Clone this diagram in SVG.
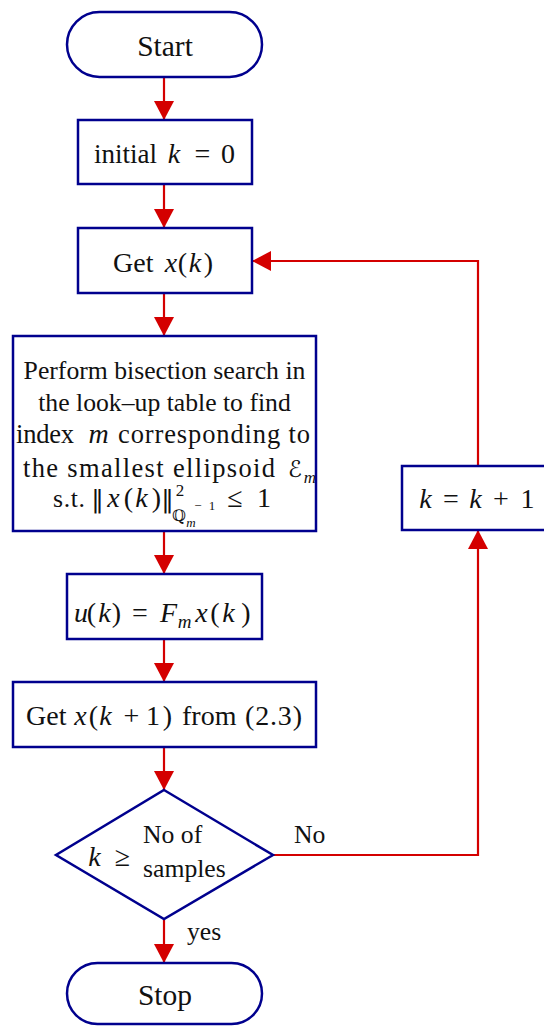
<svg xmlns="http://www.w3.org/2000/svg" width="544" height="1026" viewBox="0 0 544 1026">
<style>
.node{fill:#ffffff;stroke:#00008e;stroke-width:2.5}
.conn{fill:none;stroke:#d40000;stroke-width:2.2}
.t{font-family:"Liberation Serif","Times New Roman",serif;font-size:28px;fill:#111}
.p{font-size:25.7px}
.big{font-size:29.5px}
.i{font-style:italic}
.s{font-size:19px}
.sup{font-size:17px}
.ss{font-size:13px}
.m{text-anchor:middle}
.dj{font-family:"DejaVu Serif","DejaVu Sans",serif}
</style>
<defs>
<marker id="ah" viewBox="0 0 19 20" refX="19" refY="10" markerWidth="19" markerHeight="20" orient="auto" markerUnits="userSpaceOnUse">
<path d="M0,0 L19,10 L0,20 Z" fill="#d40000"/>
</marker>
</defs>
<rect width="544" height="1026" fill="#ffffff"/>
<g id="connectors">
<path class="conn" d="M164 77 V120" marker-end="url(#ah)"/>
<path class="conn" d="M164 184 V228" marker-end="url(#ah)"/>
<path class="conn" d="M164 293 V336" marker-end="url(#ah)"/>
<path class="conn" d="M164 531 V574" marker-end="url(#ah)"/>
<path class="conn" d="M164 639 V682" marker-end="url(#ah)"/>
<path class="conn" d="M164 747 V790" marker-end="url(#ah)"/>
<path class="conn" d="M164 919 V963" marker-end="url(#ah)"/>
<path class="conn" d="M273 855 H478 V530" marker-end="url(#ah)"/>
<path class="conn" d="M478 466 V261 H252" marker-end="url(#ah)"/>
<text class="t p" x="294" y="843">No</text>
<text class="t p" x="187" y="940">yes</text>
</g>
<g id="start">
<rect class="node" x="67" y="12" width="195" height="65" rx="32.5"/>
<text class="t big" x="165" y="56" text-anchor="middle">Start</text>
</g>
<g id="init">
<rect class="node" x="78" y="120" width="174" height="64"/>
<text class="t" x="94" y="163" style="font-size:27px">initial</text>
<text class="t m" y="163"><tspan class="i" x="174">k</tspan><tspan x="202.5">=</tspan><tspan x="228">0</tspan></text>
</g>
<g id="getx">
<rect class="node" x="78" y="228" width="174" height="65"/>
<text class="t" x="113" y="272">Get</text>
<text class="t m" y="272"><tspan class="i" x="171">x</tspan><tspan x="182.5">(</tspan><tspan class="i" x="195">k</tspan><tspan x="208.5">)</tspan></text>
</g>
<g id="bisect">
<rect class="node" x="13" y="336" width="303" height="195"/>
<text class="t p" x="164.5" y="379" text-anchor="middle">Perform bisection search in</text>
<text class="t p" x="164.5" y="411" text-anchor="middle">the look–up table to find</text>
<text class="t" x="16" y="443" style="font-size:26.5px" textLength="58" lengthAdjust="spacing">index</text>
<text class="t i m" x="98.5" y="443">m</text>
<text class="t" x="118" y="443" style="font-size:26.5px" textLength="192" lengthAdjust="spacing">corresponding to</text>
<text class="t" x="23" y="477" style="font-size:26.5px" textLength="252" lengthAdjust="spacing">the smallest ellipsoid</text>
<text class="t dj i m" x="295" y="477" style="font-size:23px">ℰ</text>
<text class="t sup i m" x="310" y="483">m</text>
<text class="t p" x="53" y="507" textLength="32" lengthAdjust="spacing">s.t.</text>
<text class="t m" y="507"><tspan class="dj" x="97.5" style="font-size:25px">‖</tspan><tspan class="i" x="113.5">x</tspan><tspan x="128.5">(</tspan><tspan class="i" x="141.5">k</tspan><tspan x="156.5">)</tspan><tspan class="dj" x="167.5" style="font-size:25px">‖</tspan></text>
<text class="t sup m" x="180" y="496">2</text>
<text class="t dj m" x="179" y="521" style="font-size:16px">ℚ</text>
<text class="t ss i m" x="191" y="527">m</text>
<text class="t ss m" x="198" y="510">−</text>
<text class="t ss m" x="212" y="510">1</text>
<text class="t m" x="235" y="507">≤</text>
<text class="t m" x="264" y="507">1</text>
</g>
<g id="control">
<rect class="node" x="67" y="574" width="195" height="65"/>
<text class="t m" y="622"><tspan class="i" x="81">u</tspan><tspan x="91.5">(</tspan><tspan class="i" x="104.5">k</tspan><tspan x="116.5">)</tspan><tspan x="140">=</tspan><tspan class="i" x="168.5">F</tspan><tspan class="i" x="201.5">x</tspan><tspan x="215">(</tspan><tspan class="i" x="228.5">k</tspan><tspan x="246">)</tspan></text>
<text class="t s i m" x="184.5" y="628">m</text>
</g>
<g id="nextx">
<rect class="node" x="13" y="682" width="303" height="65"/>
<text class="t" x="26" y="725">Get</text>
<text class="t m" y="725"><tspan class="i" x="80.5">x</tspan><tspan x="93.5">(</tspan><tspan class="i" x="105.5">k</tspan><tspan x="131.5">+</tspan><tspan x="153">1</tspan><tspan x="167.5">)</tspan></text>
<text class="t" x="182" y="725">from</text>
<text class="t" x="245" y="725" textLength="57" lengthAdjust="spacing">(2.3)</text>
</g>
<g id="decision">
<path class="node" d="M164 790 L273 855 L164 919 L56 855 Z"/>
<text class="t m" y="866"><tspan class="i" x="94.5">k</tspan><tspan x="122.5">≥</tspan></text>
<text class="t p" x="143" y="843">No of</text>
<text class="t p" x="143" y="877">samples</text>
</g>
<g id="increment">
<rect class="node" x="402" y="466" width="150" height="64"/>
<text class="t m" y="508"><tspan class="i" x="425.5">k</tspan><tspan x="451">=</tspan><tspan class="i" x="475.5">k</tspan><tspan x="501">+</tspan><tspan x="527.5">1</tspan></text>
</g>
<g id="stop">
<rect class="node" x="67" y="963" width="195" height="61" rx="30.5"/>
<text class="t big" x="165" y="1005" text-anchor="middle">Stop</text>
</g>
</svg>
